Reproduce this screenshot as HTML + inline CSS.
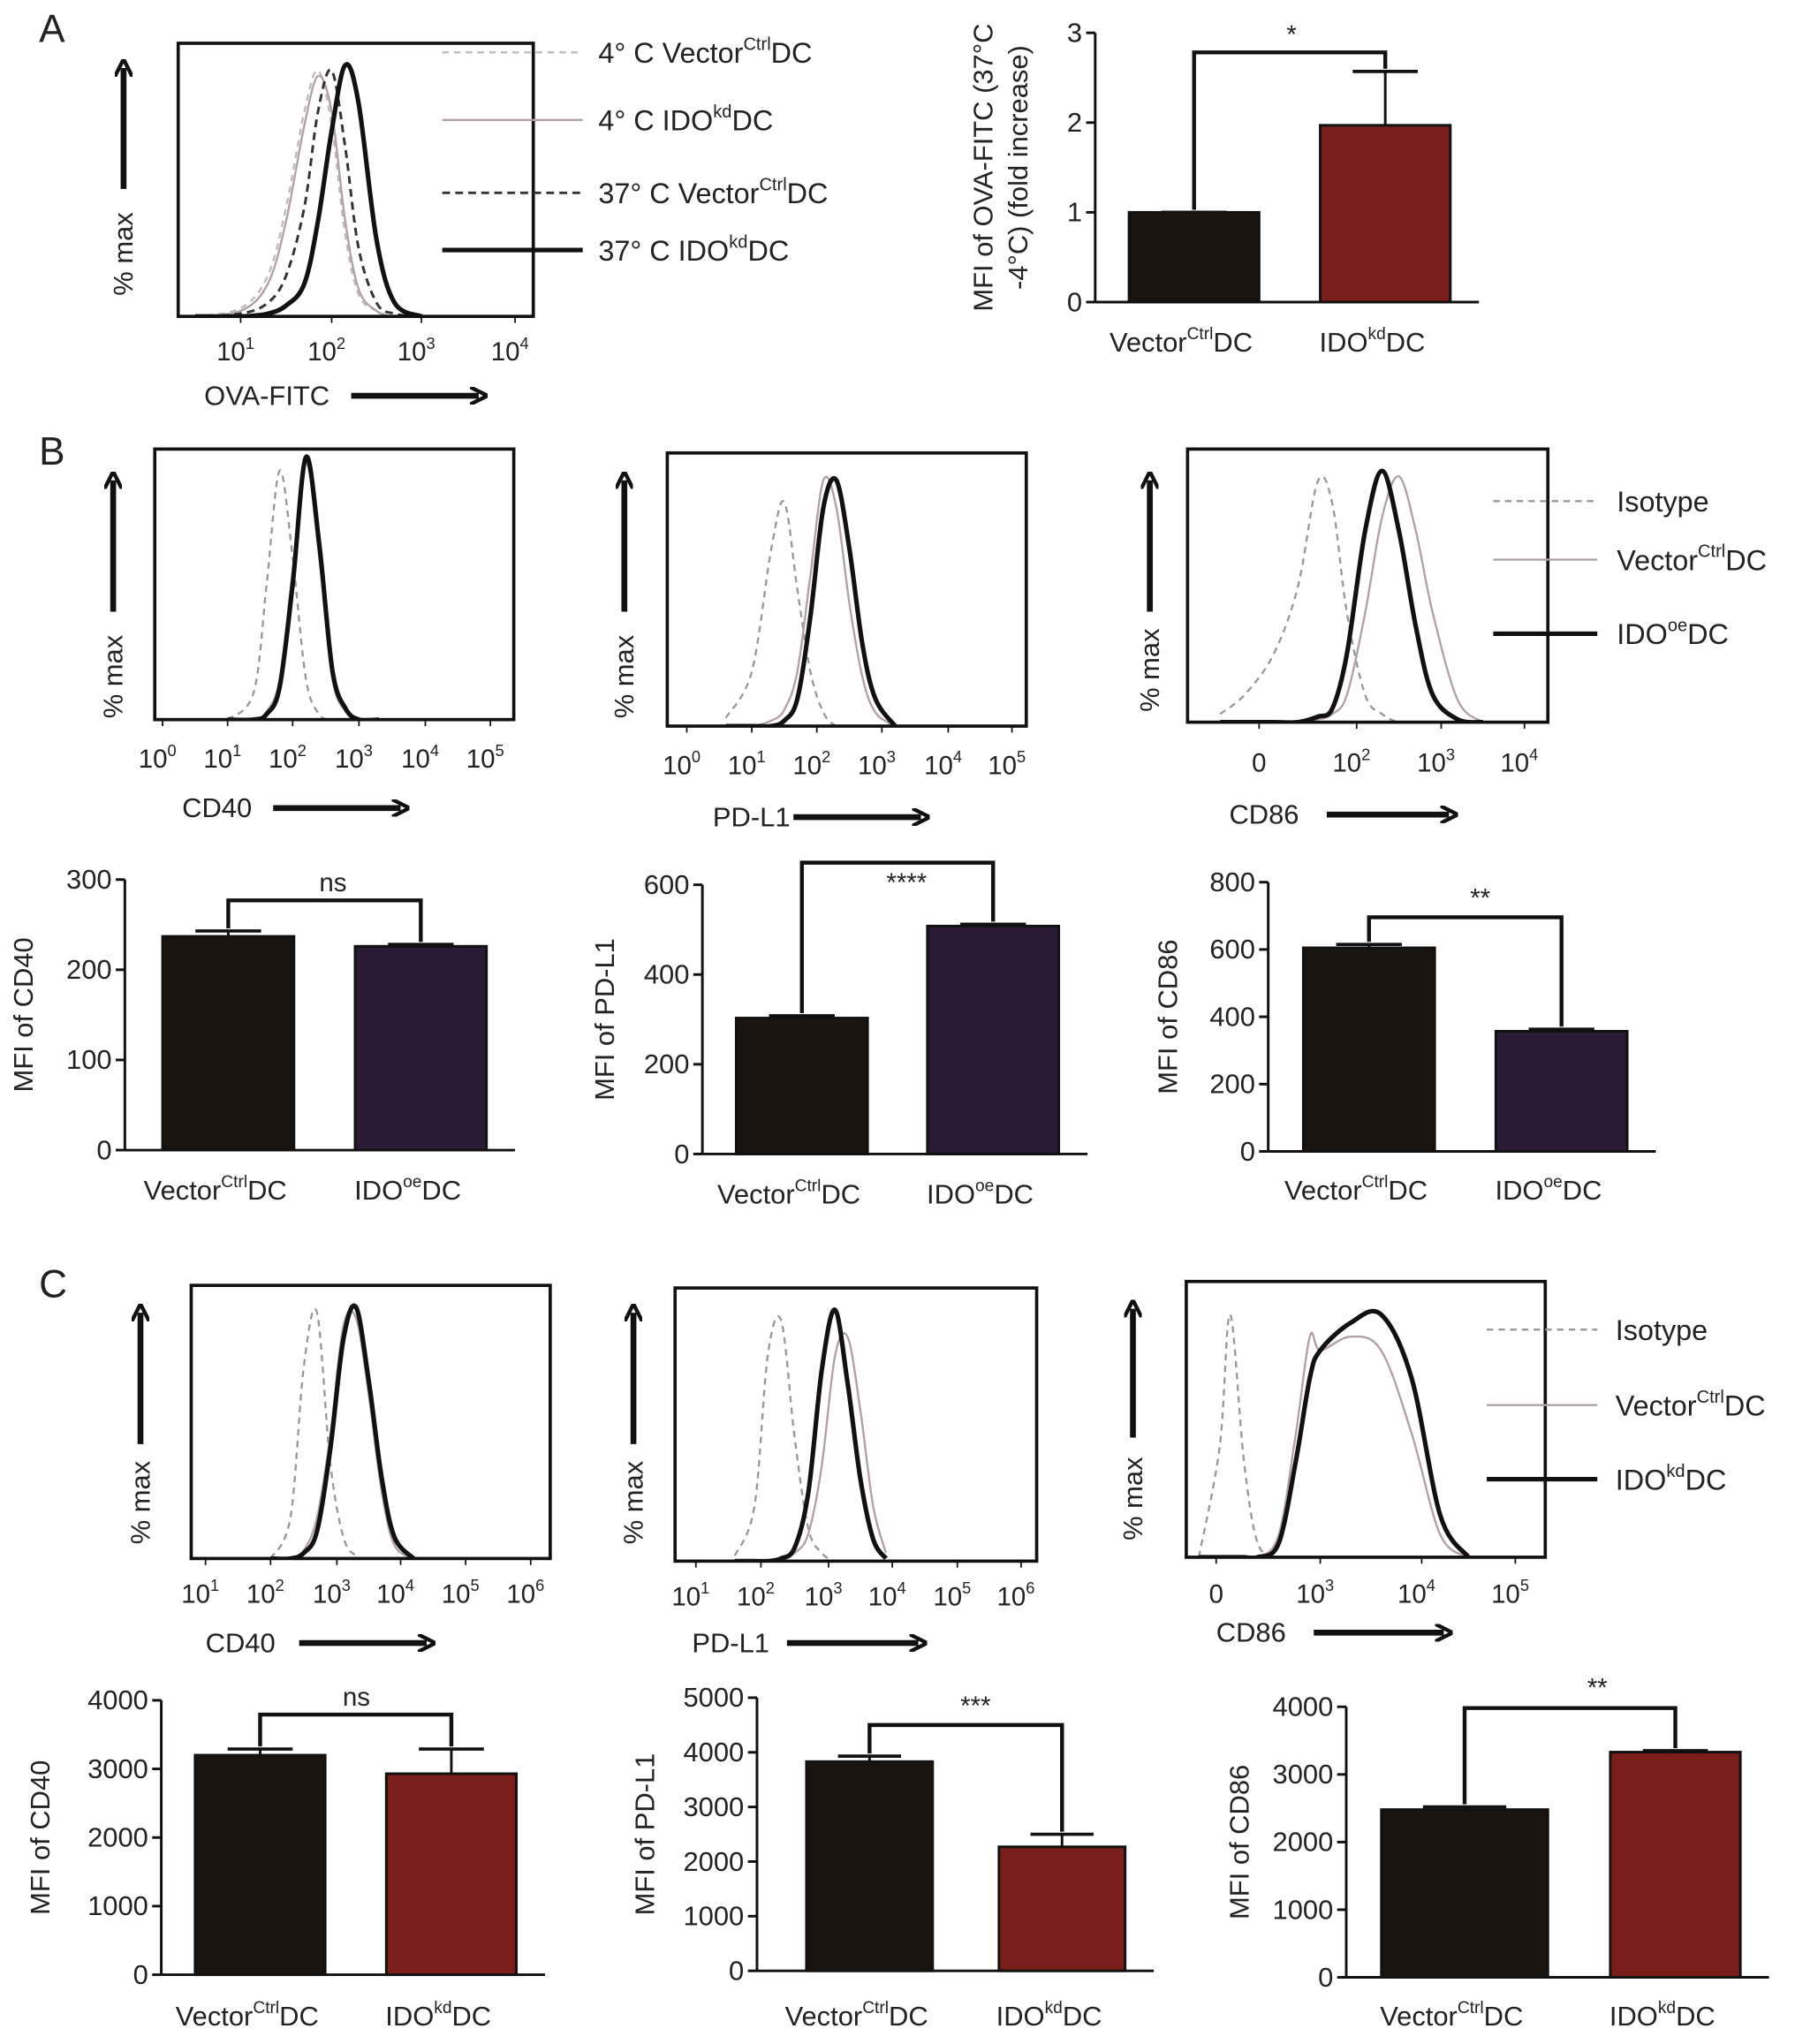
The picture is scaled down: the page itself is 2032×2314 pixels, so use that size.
<!DOCTYPE html>
<html><head><meta charset="utf-8"><style>
html,body{margin:0;padding:0;background:#fff;}
svg{display:block;font-family:"Liberation Sans",sans-serif;}
</style></head><body>
<svg id="fig" width="2032" height="2314" viewBox="0 0 1380 1571" xmlns="http://www.w3.org/2000/svg">
<defs>
<marker id="ah" viewBox="0 0 10 10" refX="5" refY="5" markerWidth="3" markerHeight="3" orient="auto"><path d="M0,0 L10,5 L0,10" fill="none" stroke="#111" stroke-width="2.2"/></marker>
</defs>
<g id="root"></g>
</svg>
<script>
// ---------- DATA ----------
const aGrid=[0.5,1.0,1.3,1.5,1.7,1.85,2.0,2.15,2.3,2.5,2.7,3.0];
const a4Vec=[0,3,15,40,75,90,70,30,8,2,0,0];
const a4Ido=[0,2,12,35,70,88,75,35,10,2,0,0];
const a37Vec=[0,1,5,15,40,75,90,62,25,5,1,0];
const a37Ido=[0,0,1,4,12,35,68,92,78,28,5,0];
const aCats=["Vector","IDO"];
const aVals=[1.0,1.97];
const aErr=[1.0,2.57];
const b1Grid=[1.0,1.4,1.6,1.8,2.0,2.2,2.4,2.6,2.8,3.0,3.3];
const b1Iso=[0,10,50,92,60,15,2,0,0,0,0];
const b1Vec=[0,0,3,15,55,95,60,15,3,0,0];
const b1Ido=[0,0,2,12,50,97,65,18,4,0,0];
const b2Grid=[0.6,1.0,1.3,1.5,1.7,1.9,2.1,2.3,2.5,2.7,2.9,3.2];
const b2Iso=[3,20,65,82,50,20,5,0,0,0,0,0];
const b2Vec=[0,0,2,6,20,55,90,80,45,18,5,0];
const b2Ido=[0,0,0,2,10,40,80,90,65,30,10,0];
const b3Grid=[-0.8,-0.3,0.3,0.8,1.2,1.5,1.8,2.1,2.3,2.5,2.7,2.9,3.2,3.5];
const b3Iso=[3,10,25,50,88,80,40,10,3,0,0,0,0,0];
const b3Vec=[0,0,0,0,1,3,10,40,75,90,70,40,8,0];
const b3Ido=[0,0,0,0,2,5,25,70,92,70,35,10,1,0];
const c1Grid=[2.0,2.3,2.5,2.7,2.9,3.1,3.3,3.5,3.7,3.9,4.2];
const c1Iso=[0,15,70,90,35,8,1,0,0,0,0];
const c1Vec=[0,0,3,15,45,85,88,60,25,5,0];
const c1Ido=[0,0,2,10,40,80,92,65,30,8,0];
const c2Grid=[1.6,1.9,2.1,2.3,2.5,2.7,2.9,3.1,3.3,3.5,3.7,3.9];
const c2Iso=[2,20,75,88,45,12,3,0,0,0,0,0];
const c2Vec=[0,0,0,1,3,10,35,75,82,55,20,3];
const c2Ido=[0,0,0,1,5,25,70,92,65,30,8,1];
const c3Grid=[-0.5,0.1,0.4,0.8,1.2,1.8,2.3,2.7,3.0,3.3,3.6,3.9,4.2,4.5];
const c3Iso=[0,40,88,35,5,0,0,0,0,0,0,0,0,0];
const c3Vec=[0,0,0,0,0,8,45,80,75,80,75,45,8,0];
const c3Ido=[0,0,0,0,0,5,35,65,75,85,88,65,15,0];
const b1Vals=[237,226]; const b1Err=[243,228];
const b2Vals=[303,508]; const b2Err=[308,512];
const b3Vals=[605,357]; const b3Err=[615,363];
const c1Vals=[3200,2930]; const c1Err=[3290,3290];
const c2Vals=[3830,2270]; const c2Err=[3930,2500];
const c3Vals=[2480,3330]; const c3Err=[2520,3350];
const b1Ticks=[0,100,200,300]; const b2Ticks=[0,200,400,600]; const b3Ticks=[0,200,400,600,800];
const c1Ticks=[0,1000,2000,3000,4000]; const c2Ticks=[0,1000,2000,3000,4000,5000]; const c3Ticks=[0,1000,2000,3000,4000];
const aTicks=[0,1,2,3];

// ---------- HELPERS ----------
const NS="http://www.w3.org/2000/svg";
const root=document.getElementById('root');
function el(tag,attrs,parent){const e=document.createElementNS(NS,tag);for(const k in attrs)e.setAttribute(k,attrs[k]);(parent||root).appendChild(e);return e;}
function txt(x,y,str,size,anchor,parent){const t=el('text',{x:x,y:y,'font-size':size,'text-anchor':anchor||'start',fill:'#222'},parent);t.textContent=str;return t;}
function supText(x,y,base,sup,tail,size,anchor,parent){
  const t=el('text',{x:x,y:y,'font-size':size,'text-anchor':anchor||'start',fill:'#222'},parent);
  const s1=el('tspan',{},t);s1.textContent=base;
  const s2=el('tspan',{dy:-size*0.45,'font-size':size*0.62},t);s2.textContent=sup;
  if(tail){const s3=el('tspan',{dy:size*0.45},t);s3.textContent=tail;}
  return t;
}
function smoothPath(pts){
  let d='M'+pts[0][0]+','+pts[0][1];
  for(let i=0;i<pts.length-1;i++){
    const p0=pts[Math.max(i-1,0)],p1=pts[i],p2=pts[i+1],p3=pts[Math.min(i+2,pts.length-1)];
    const c1x=p1[0]+(p2[0]-p0[0])/6,c1y=p1[1]+(p2[1]-p0[1])/6;
    const c2x=p2[0]-(p3[0]-p1[0])/6,c2y=p2[1]-(p3[1]-p1[1])/6;
    d+=' C'+c1x.toFixed(1)+','+c1y.toFixed(1)+' '+c2x.toFixed(1)+','+c2y.toFixed(1)+' '+p2[0].toFixed(1)+','+p2[1].toFixed(1);
  }
  return d;
}
function pw(tv,tp,v){
  if(v<=tv[0]) return tp[0]+(v-tv[0])*(tp[1]-tp[0])/(tv[1]-tv[0]);
  for(let i=0;i<tv.length-1;i++){ if(v<=tv[i+1]) return tp[i]+(v-tv[i])*(tp[i+1]-tp[i])/(tv[i+1]-tv[i]); }
  const n=tv.length-1; return tp[n]+(v-tv[n])*(tp[n]-tp[n-1])/(tv[n]-tv[n-1]);
}
const STY={
  iso:{stroke:'#999','stroke-width':1.6,'stroke-dasharray':'5,4'},
  vec:{stroke:'#b0a0aa','stroke-width':1.6},
  ido:{stroke:'#111','stroke-width':3.5},
  a4v:{stroke:'#bbb','stroke-width':1.6,'stroke-dasharray':'5,4'},
  a4i:{stroke:'#b0a0aa','stroke-width':1.6},
  a37v:{stroke:'#333','stroke-width':2,'stroke-dasharray':'6,4'},
  a37i:{stroke:'#111','stroke-width':3.5}
};
function histogram(name,box,tickVals,tickPos,tickLbls,tickY,grid,curves,arrowX,arrowTop,arrowBot,pmY,xlab,xlabX,xlabY,arrStart,arrEnd){
  const g=el('g',{});
  
  
  const [x0,y0,x1,y1]=box;
  const clip=el('clipPath',{id:'clip-'+name},g);
  el('rect',{x:x0,y:y0,width:x1-x0,height:y1-y0},clip);
  const cg=el('g',{'clip-path':'url(#clip-'+name+')'},g);
  curves.forEach(c=>{
    const pts=grid.map((v,i)=>[pw(tickVals,tickPos,v), y1-(c.vals[i]/100)*(y1-y0)]);
    const p=el('path',Object.assign({d:smoothPath(pts),fill:'none'},STY[c.style]),cg);
    
    
  });
  const r=el('rect',{x:x0,y:y0,width:x1-x0,height:y1-y0,fill:'none',stroke:'#111','stroke-width':2.5},g);
  
  
  tickVals.forEach((v,i)=>{
    const x=tickPos[i];
    el('line',{x1:x,y1:y1,x2:x,y2:y1+5,stroke:'#111','stroke-width':1.2},g);
    const L=tickLbls[i];
    let t;
    if(L==='zero') t=txt(x,tickY,'0',20,'middle',g);
    else t=supText(x-4,tickY,'10',L,'',20,'middle',g);
    
    
  });
  const ar=el('line',{x1:arrowX,y1:arrowBot,x2:arrowX,y2:arrowTop+4,stroke:'#111','stroke-width':4.5,'marker-end':'url(#ah)'},g);
  
  
  const pm=txt(0,0,'% max',21,'middle',g);
  pm.setAttribute('transform','translate('+(arrowX+7)+','+pmY+') rotate(-90)');
  
  
  const xl=txt(xlabX,xlabY,xlab,21,'start',g);
  
  
  const xa=el('line',{x1:arrStart,y1:xlabY-7,x2:arrEnd-4,y2:xlabY-7,stroke:'#111','stroke-width':4.5,'marker-end':'url(#ah)'},g);
  
  
}
function barChart(name,axX,yTop,yBot,ticks,vals,errs,barX,barW,colors,brY,sig,sigX,sigY,ylab,ylabX,labels,labY,ylabLines){
  const g=el('g',{});
  
  
  const maxT=ticks[ticks.length-1];
  const ys=v=>yBot-(v/maxT)*(yBot-yTop);
  const bw=i=>Array.isArray(barW)?barW[i]:barW;
  const xEnd=barX[1]+bw(1)+22;
  el('line',{x1:axX,y1:yTop,x2:axX,y2:yBot,stroke:'#111','stroke-width':2},g);
  el('line',{x1:axX,y1:yBot,x2:xEnd,y2:yBot,stroke:'#111','stroke-width':2},g);
  ticks.forEach(t=>{
    el('line',{x1:axX-7,y1:ys(t),x2:axX,y2:ys(t),stroke:'#111','stroke-width':2},g);
    const l=txt(axX-10,ys(t)+7,String(t),21,'end',g);
    
    
  });
  const cs=[];
  vals.forEach((v,i)=>{
    const x=barX[i],w=bw(i),cx=x+w/2;cs.push(cx);
    const e1=el('line',{x1:cx,y1:ys(errs[i]),x2:cx,y2:ys(v),stroke:'#111','stroke-width':2},g);
    
    
    el('line',{x1:cx-w/4,y1:ys(errs[i]),x2:cx+w/4,y2:ys(errs[i]),stroke:'#111','stroke-width':2.5},g);
    const b=el('rect',{x:x,y:ys(v),width:w,height:yBot-ys(v),fill:colors[i],stroke:'#111','stroke-width':2},g);
    
    
    const L=labels[i];
    const t=supText(cx-10,labY,L[0],L[1],'DC',21,'middle',g);
    
    
  });
  const c0=cs[0],c1=cs[1];
  const br=el('path',{d:'M'+c0+','+(ys(errs[0])-2)+' L'+c0+','+brY+' L'+c1+','+brY+' L'+c1+','+(ys(errs[1])-2),fill:'none',stroke:'#111','stroke-width':3},g);
  
  
  const s=txt(sigX,sigY,sig,20,'middle',g);
  
  
  const yc=(yTop+yBot)/2;
  (ylabLines||[ylab]).forEach((ln,k)=>{
    const t=txt(0,0,ln,21,'middle',g);
    t.setAttribute('transform','translate('+(ylabX+k*27)+','+yc+') rotate(-90)');
    
    
  });
}
function legend(name,x1,x2,tx,items){
  const g=el('g',{});
  
  
  items.forEach(it=>{
    const l=el('line',Object.assign({x1:x1,y1:it.y,x2:x2,y2:it.y},STY[it.style]),g);
    
    
    const t=it.sup?supText(tx,it.y+8,it.text,it.sup,it.tail,22,'start',g):txt(tx,it.y+8,it.text,22,'start',g);
    
    
  });
}
function panelLetter(l,x,y){const t=txt(x,y,l,30,'start');}

// ---------- PANEL A ----------
panelLetter('A',30,32);
histogram('a-hist',[137,33,410,243],[1,2,3,4],[185,255,324,396],['1','2','3','4'],277,aGrid,
  [{id:'4c-vector',style:'a4v',vals:a4Vec},{id:'4c-ido',style:'a4i',vals:a4Ido},{id:'37c-vector',style:'a37v',vals:a37Vec},{id:'37c-ido',style:'a37i',vals:a37Ido}],
  95,48,145,195,'OVA-FITC',157,311,270,372);
legend('a-legend',340,448,460,[
  {y:40,style:'a4v',text:'4° C Vector',sup:'Ctrl',tail:'DC'},
  {y:92,style:'a4i',text:'4° C IDO',sup:'kd',tail:'DC'},
  {y:148,style:'a37v',text:'37° C Vector',sup:'Ctrl',tail:'DC'},
  {y:192,style:'a37i',text:'37° C IDO',sup:'kd',tail:'DC'}]);
barChart('a-bar',842,25,232,aTicks,aVals,aErr,[868,1015],100,['#1a1410','#7a1e1a'],40,'*',993,33,'',763,[['Vector','Ctrl'],['IDO','kd']],270,['MFI of OVA-FITC (37°C','-4°C) (fold increase)']);

// ---------- PANEL B ----------
panelLetter('B',30,357);
histogram('b-cd40-hist',[119,345,395,553],[0,1,2,3,4,5],[125,175,225,276,327,377],['0','1','2','3','4','5'],590,b1Grid,
  [{id:'isotype',style:'iso',vals:b1Iso},{id:'vector',style:'vec',vals:b1Vec},{id:'ido',style:'ido',vals:b1Ido}],
  87,365,470,520,'CD40',140,628,210,312);
histogram('b-pdl1-hist',[513,348,789,558],[0,1,2,3,4,5],[528,578,628,678,729,778],['0','1','2','3','4','5'],595,b2Grid,
  [{id:'isotype',style:'iso',vals:b2Iso},{id:'vector',style:'vec',vals:b2Vec},{id:'ido',style:'ido',vals:b2Ido}],
  480,365,470,520,'PD-L1',548,635,610,712);
histogram('b-cd86-hist',[913,345,1190,555],[0,2,3,4],[968,1043,1108,1172],['zero','2','3','4'],593,b3Grid,
  [{id:'isotype',style:'iso',vals:b3Iso},{id:'vector',style:'vec',vals:b3Vec},{id:'ido',style:'ido',vals:b3Ido}],
  884,365,470,515,'CD86',945,633,1020,1118);
legend('b-legend',1148,1228,1243,[
  {y:385,style:'iso',text:'Isotype'},
  {y:430,style:'vec',text:'Vector',sup:'Ctrl',tail:'DC'},
  {y:487,style:'ido',text:'IDO',sup:'oe',tail:'DC'}]);
barChart('b-cd40-bar',96,676,884,b1Ticks,b1Vals,b1Err,[125,273],101,['#1a1410','#2a1a35'],692,'ns',256,685,'MFI of CD40',25,[['Vector','Ctrl'],['IDO','oe']],922);
barChart('b-pdl1-bar',540,680,887,b2Ticks,b2Vals,b2Err,[566,713],101,['#1a1410','#2a1a35'],663,'****',697,685,'MFI of PD-L1',472,[['Vector','Ctrl'],['IDO','oe']],925);
barChart('b-cd86-bar',975,678,885,b3Ticks,b3Vals,b3Err,[1002,1150],101,['#1a1410','#2a1a35'],705,'**',1138,697,'MFI of CD86',905,[['Vector','Ctrl'],['IDO','oe']],922);

// ---------- PANEL C ----------
panelLetter('C',30,997);
histogram('c-cd40-hist',[147,988,423,1198],[1,2,3,4,5,6],[158,208,259,308,358,408],['1','2','3','4','5','6'],1232,c1Grid,
  [{id:'isotype',style:'iso',vals:c1Iso},{id:'vector',style:'vec',vals:c1Vec},{id:'ido',style:'ido',vals:c1Ido}],
  108,1005,1110,1155,'CD40',158,1270,230,332);
histogram('c-pdl1-hist',[519,990,797,1200],[1,2,3,4,5,6],[535,585,637,686,736,785],['1','2','3','4','5','6'],1234,c2Grid,
  [{id:'isotype',style:'iso',vals:c2Iso},{id:'vector',style:'vec',vals:c2Vec},{id:'ido',style:'ido',vals:c2Ido}],
  487,1005,1110,1155,'PD-L1',532,1270,605,710);
histogram('c-cd86-hist',[912,985,1188,1197],[0,3,4,5],[935,1015,1093,1165],['zero','3','4','5'],1232,c3Grid,
  [{id:'isotype',style:'iso',vals:c3Iso},{id:'vector',style:'vec',vals:c3Vec},{id:'ido',style:'ido',vals:c3Ido}],
  871,1002,1105,1152,'CD86',935,1262,1010,1114);
legend('c-legend',1143,1228,1242,[
  {y:1022,style:'iso',text:'Isotype'},
  {y:1080,style:'vec',text:'Vector',sup:'Ctrl',tail:'DC'},
  {y:1137,style:'ido',text:'IDO',sup:'kd',tail:'DC'}]);
barChart('c-cd40-bar',124,1307,1518,c1Ticks,c1Vals,c1Err,[150,297],100,['#1a1410','#7a1e1a'],1318,'ns',274,1311,'MFI of CD40',38,[['Vector','Ctrl'],['IDO','kd']],1557);
barChart('c-pdl1-bar',582,1305,1515,c2Ticks,c2Vals,c2Err,[620,768],97,['#1a1410','#7a1e1a'],1326,'***',750,1318,'MFI of PD-L1',503,[['Vector','Ctrl'],['IDO','kd']],1557);
barChart('c-cd86-bar',1035,1312,1520,c3Ticks,c3Vals,c3Err,[1062,1238],[128,100],['#1a1410','#7a1e1a'],1313,'**',1228,1304,'MFI of CD86',960,[['Vector','Ctrl'],['IDO','kd']],1557);
</script>
</body></html>
